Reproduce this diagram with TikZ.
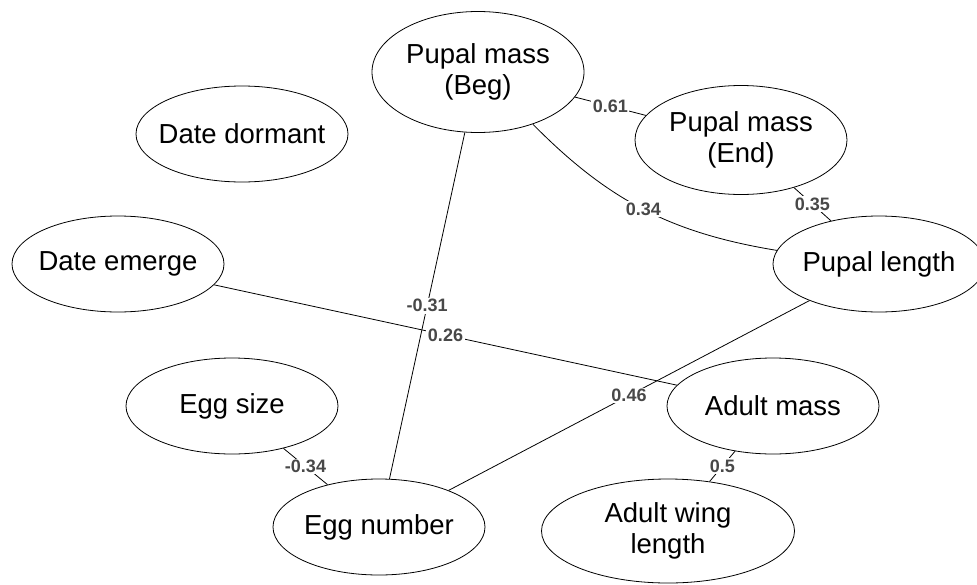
\documentclass[tikz,border=0pt]{standalone}
\usepackage{fontspec}
\setmainfont{Liberation Sans}
\usetikzlibrary{shapes.geometric}
\definecolor{wtgray}{RGB}{72,72,72}

\begin{document}
\begin{tikzpicture}[x=1pt, y=-1pt, line width=0.8pt]
\tikzstyle{var}=[ellipse, draw, inner xsep=-40pt, inner ysep=0pt,
                 minimum width=212pt, minimum height=96pt, align=center,
                 font=\fontsize{27.5}{31}\selectfont]
\tikzstyle{wt}=[fill=white, inner sep=1.5pt, text=wtgray,
                font=\fontsize{18}{20}\selectfont\bfseries]
\useasboundingbox (0,0) rectangle (977,584);
\node[var, minimum height=121pt] (beg) at (478,72) {Pupal mass\\(Beg)};
\node[var] (dorm) at (242,134) {Date dormant};
\node[var, minimum height=109pt] (end) at (741,140) {Pupal mass\\(End)};
\node[var] (plen) at (879,264) {Pupal length};
\node[var] (emer) at (118,264) {Date emerge};
\node[var] (amass) at (773,406) {Adult mass};
\node[var] (esize) at (232,406) {Egg size};
\node[var] (enum) at (379,527) {Egg number};
\node[var, minimum width=253pt, minimum height=104pt] (wing) at (668,531) {Adult wing\\length};
% correlations
\draw (beg) -- node[wt] (w1) {0.61} (end);
\draw (beg) to[bend right=18] node[wt] (w2) {0.34} (plen);
\draw (end) -- node[wt] (w3) {0.35} (plen);
\draw (beg) -- node[wt] (w4) {-0.31} (enum);
\draw (emer) -- node[wt] (w5) {0.26} (amass);
\draw (plen) -- node[wt] (w6) {0.46} (enum);
\draw (esize) -- node[wt] (w7) {-0.34} (enum);
\draw (amass) -- node[wt] (w8) {0.5} (wing);
\end{tikzpicture}
\end{document}
